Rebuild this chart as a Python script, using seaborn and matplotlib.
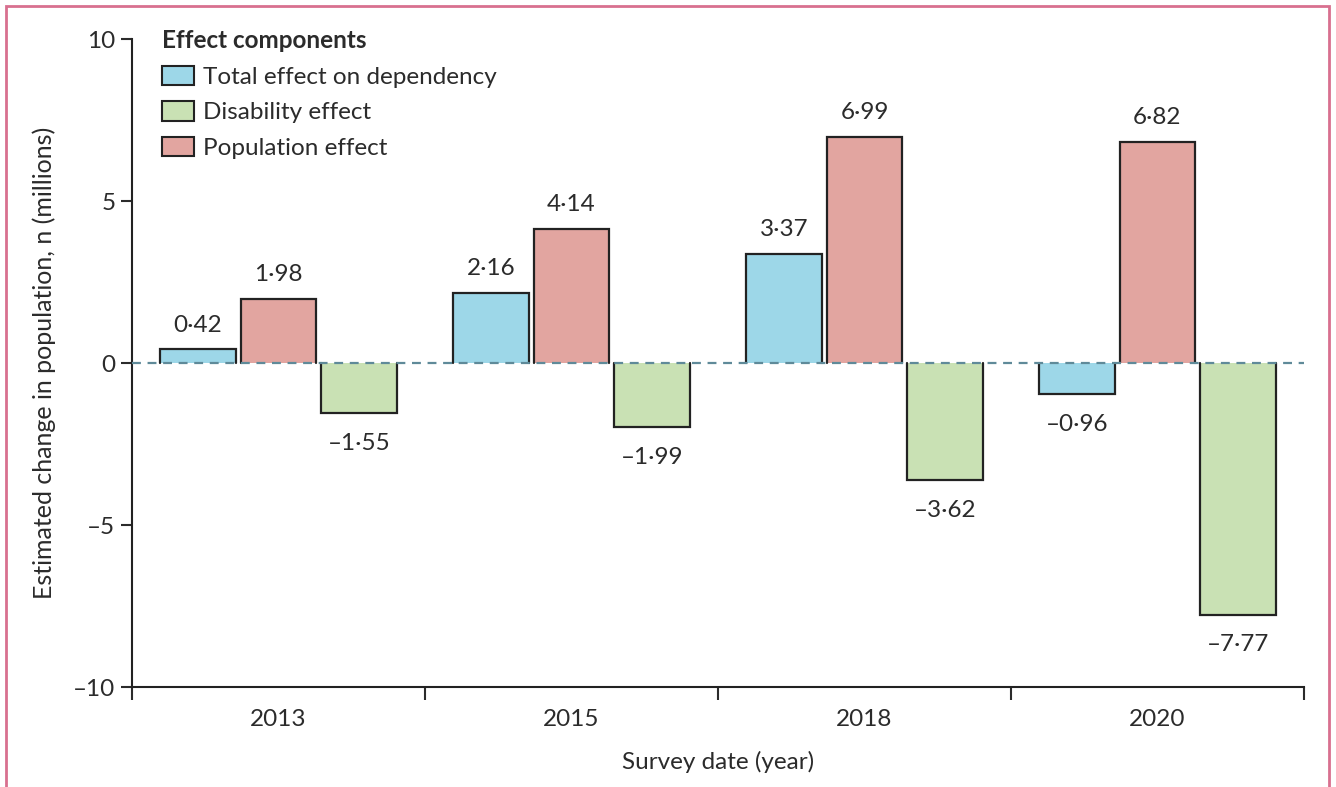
import matplotlib
matplotlib.use("Agg")
import matplotlib.pyplot as plt
from matplotlib.patches import Rectangle, Patch
import seaborn as sns
import pandas as pd

# Survey years and the decomposition of the change in dependency (millions)
years = ["2013", "2015", "2018", "2020"]
total_effect = [0.42, 2.16, 3.37, -0.96]
disability_effect = [-1.55, -1.99, -3.62, -7.77]
population_effect = [1.98, 4.14, 6.99, 6.82]

component_names = ["Total effect on dependency", "Disability effect", "Population effect"]
bar_order = ["Total effect on dependency", "Population effect", "Disability effect"]
colors = {
    "Total effect on dependency": "#9dd7e8",
    "Disability effect": "#c9e1b4",
    "Population effect": "#e2a5a0",
}

y_ticks = [-10, -5, 0, 5, 10]
y_tick_labels = ["\u201310", "\u20135", "0", "5", "10"]

df = pd.DataFrame({
    "year": years * 3,
    "component": [component_names[0]] * 4 + [component_names[1]] * 4 + [component_names[2]] * 4,
    "value": total_effect + disability_effect + population_effect,
})

sns.set_theme(style="white")
plt.rcParams["font.family"] = ["Lato", "DejaVu Sans"]
text_color = "#2b2b2b"
plt.rcParams["text.color"] = text_color
plt.rcParams["axes.labelcolor"] = text_color
plt.rcParams["xtick.color"] = text_color
plt.rcParams["ytick.color"] = text_color

fs = 17.5

fig = plt.figure(figsize=(13.36, 7.87), dpi=100)
ax = fig.add_axes([132 / 1336, 1 - 687 / 787, (1304 - 132) / 1336, (687 - 39) / 787])

sns.barplot(
    data=df, x="year", y="value", hue="component",
    order=years, hue_order=bar_order, palette=colors, saturation=1,
    width=0.826, gap=0.06, edgecolor="none", linewidth=0,
    errorbar=None, legend=False, ax=ax,
)

# Open outlines (no edge along the zero line) and value labels
edge_color = "#222222"
for container, name in zip(ax.containers, bar_order):
    vals = df.set_index(["component", "year"]).loc[name].loc[years, "value"].tolist()
    for patch, v in zip(container.patches, vals):
        x0 = patch.get_x()
        x1 = x0 + patch.get_width()
        ax.plot([x0, x0, x1, x1], [0, v, v, 0], color=edge_color, lw=1.6,
                solid_joinstyle="miter", zorder=3)
        label = f"{abs(v):.2f}".replace(".", "\u00b7")
        if v < 0:
            label = "\u2013" + label
        ax.annotate(label, xy=(x0 + patch.get_width() / 2, v),
                    xytext=(0, 10 if v >= 0 else -14), textcoords="offset points",
                    ha="center", va="bottom" if v >= 0 else "top",
                    fontsize=fs, color=text_color)

ax.axhline(0, color="#5f8a99", lw=1.6, ls=(0, (4, 3)), zorder=4)

ax.set_ylim(-10, 10)
ax.set_xlim(-0.5, len(years) - 0.5)
ax.set_yticks(y_ticks)
ax.set_yticklabels(y_tick_labels, fontsize=fs)
ax.set_xticks([i - 0.5 for i in range(len(years) + 1)])
ax.set_xticklabels([])
ax.set_xticks(range(len(years)), labels=years, minor=True)
ax.tick_params(axis="x", which="major", direction="out", length=9, width=1.5, bottom=True)
ax.tick_params(axis="x", which="minor", length=0, pad=16, labelsize=fs)
ax.tick_params(axis="y", direction="out", length=8, width=1.5, left=True, pad=4)

for side in ["top", "right"]:
    ax.spines[side].set_visible(False)
for side in ["left", "bottom"]:
    ax.spines[side].set_color(edge_color)
    ax.spines[side].set_linewidth(1.5)

ax.set_xlabel("Survey date (year)", fontsize=fs, labelpad=15)
ax.set_ylabel("Estimated change in population, n (millions)", fontsize=18, labelpad=12)
ax.grid(False)

handles = [Patch(facecolor=colors[n], edgecolor=edge_color, linewidth=1.5) for n in component_names]
leg = ax.legend(handles, component_names, title="Effect components", loc="upper left",
                bbox_to_anchor=(0.017, 1.03), frameon=False, fontsize=fs,
                title_fontproperties={"weight": "bold", "size": fs},
                handlelength=1.35, handleheight=0.85, handletextpad=0.35,
                labelspacing=0.55, borderaxespad=0)
leg._legend_box.align = "left"

fig.add_artist(Rectangle((6 / 1336, -0.05), (1329 - 6) / 1336, 1.05 - 6 / 787,
                         transform=fig.transFigure, fill=False,
                         edgecolor="#d8708f", linewidth=2))

fig.savefig("out.png", dpi=100)
